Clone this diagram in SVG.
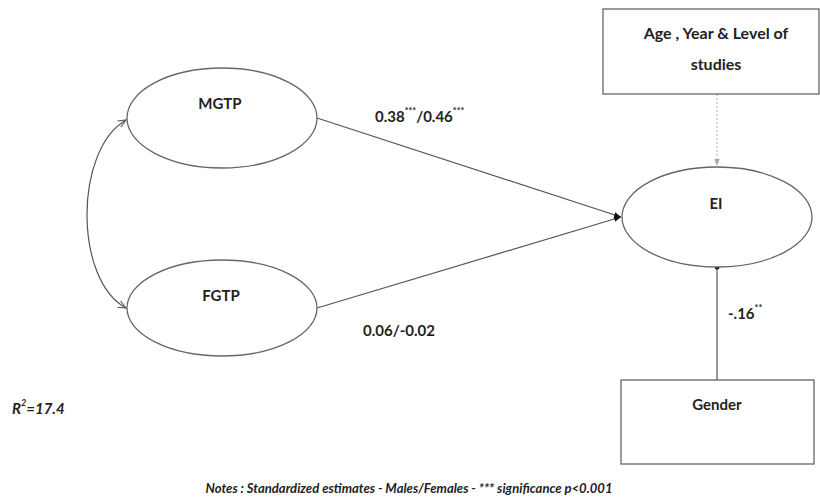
<svg xmlns="http://www.w3.org/2000/svg" width="820" height="501" viewBox="0 0 820 501">
<style>
.node{fill:#fff;stroke:#666;stroke-width:1.3}
.lbl{font-family:Lato,"Liberation Sans",sans-serif;font-weight:bold;fill:#222;text-anchor:middle;dominant-baseline:central}
.edge{fill:none;stroke:#555;stroke-width:1.2}
.ann{font-family:Lato,"Liberation Sans",sans-serif;font-weight:bold;fill:#222;dominant-baseline:central}
</style>
<defs>
<marker id="solid" viewBox="0 0 10 10" refX="10" refY="5" markerWidth="7" markerHeight="7" orient="auto" markerUnits="userSpaceOnUse">
<path d="M0,1 L10,5 L0,9 z" fill="#111"/>
</marker>
<marker id="open" viewBox="0 0 10 10" refX="9" refY="5" markerWidth="9" markerHeight="9" orient="auto-start-reverse" markerUnits="userSpaceOnUse">
<path d="M0,1 L9,5 L0,9" fill="none" stroke="#555" stroke-width="1.2"/>
</marker>
<marker id="grey" viewBox="0 0 10 10" refX="10" refY="5" markerWidth="7" markerHeight="7" orient="auto" markerUnits="userSpaceOnUse">
<path d="M0,1 L10,5 L0,9 z" fill="#aaa"/>
</marker>
<marker id="dot" viewBox="0 0 10 10" refX="5" refY="5" markerWidth="5" markerHeight="5" orient="auto" markerUnits="userSpaceOnUse">
<circle cx="5" cy="5" r="5" fill="#111"/>
</marker>
</defs>

<g id="connectors">
<line class="edge" x1="317" y1="118" x2="621" y2="217" marker-end="url(#solid)"/>
<line class="edge" x1="317" y1="308" x2="621" y2="217" marker-end="url(#solid)"/>
<path class="edge" d="M126,120 C74,150 74,280 126,308" marker-start="url(#open)" marker-end="url(#open)"/>
<line x1="717" y1="94" x2="717" y2="166" stroke="#bbb" stroke-width="1.2" stroke-dasharray="2,2" marker-end="url(#grey)"/>
<line class="edge" x1="717" y1="380" x2="717" y2="267" stroke="#777" marker-end="url(#dot)"/>
</g>

<g id="MGTP">
<ellipse class="node" cx="222" cy="118" rx="95" ry="50"/>
<text class="lbl" x="220" y="103" font-size="15">MGTP</text>
</g>
<g id="FGTP">
<ellipse class="node" cx="222" cy="308" rx="95" ry="48"/>
<text class="lbl" x="221" y="295" font-size="15">FGTP</text>
</g>
<g id="EI">
<ellipse class="node" cx="717" cy="217" rx="95" ry="50"/>
<text class="lbl" x="716" y="203" font-size="15">EI</text>
</g>
<g id="AgeYear">
<rect class="node" x="603" y="9" width="216" height="85"/>
<text class="lbl" x="716" y="32" font-size="16">Age , Year &amp; Level of</text>
<text class="lbl" x="716" y="63" font-size="16">studies</text>
</g>
<g id="Gender">
<rect class="node" x="621" y="380" width="193" height="84"/>
<text class="lbl" x="717" y="404" font-size="15">Gender</text>
</g>

<g id="labels">
<text class="ann" x="375" y="116" font-size="15">0.38<tspan font-size="9" dy="-6">***</tspan><tspan dy="6">/0.46</tspan><tspan font-size="9" dy="-6">***</tspan></text>
<text class="ann" x="363" y="330" font-size="15">0.06/-0.02</text>
<text class="ann" x="728" y="313" font-size="15">-.16<tspan font-size="9" dy="-6">**</tspan></text>
<text class="ann" x="12" y="408" font-size="15" font-style="italic">R<tspan font-size="9" dy="-6">2</tspan><tspan dy="6">=17.4</tspan></text>
<text class="ann" x="409" y="487" font-size="14" font-style="italic" text-anchor="middle" textLength="407" lengthAdjust="spacingAndGlyphs">Notes : Standardized estimates - Males/Females - *** significance p&lt;0.001</text>
</g>
</svg>
